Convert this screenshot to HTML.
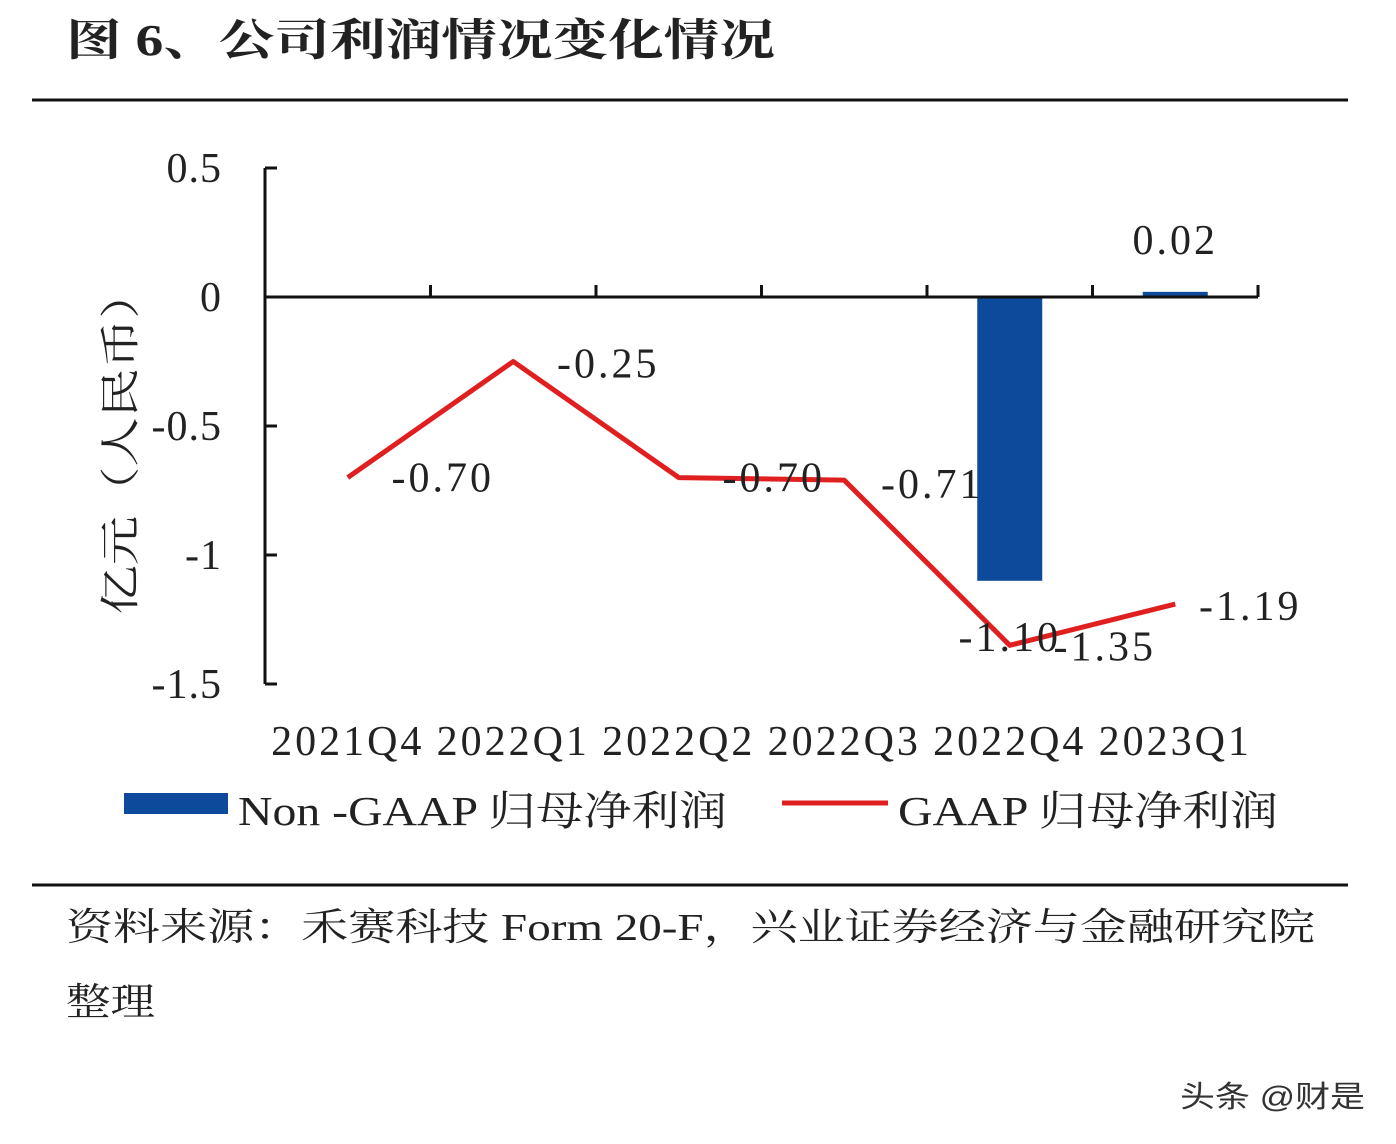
<!DOCTYPE html>
<html><head><meta charset="utf-8">
<style>
body{margin:0;background:#fff;width:1396px;height:1144px;overflow:hidden;}
svg{display:block}
.t{font-family:"Liberation Serif","Noto Serif CJK SC",serif;fill:#222;}
.n{letter-spacing:3px;}
.ny{letter-spacing:1px;}
</style></head>
<body>
<svg width="1396" height="1144">
<text class="t" x="66" y="55" font-size="44" font-weight="bold" textLength="709" lengthAdjust="spacingAndGlyphs">图 6、公司利润情况变化情况</text>
<line x1="32" y1="100" x2="1348" y2="100" stroke="#111" stroke-width="3"/>
<g id="plot"></g>
<text class="t" font-size="40" x="0" y="0" textLength="345" lengthAdjust="spacingAndGlyphs" transform="translate(134,442) rotate(-90)" text-anchor="middle" fill="#444">亿元（人民币）</text>
<rect x="124" y="793" width="104" height="21" fill="#0d4a9c"/>
<text class="t" x="238" y="825" font-size="41" textLength="489" lengthAdjust="spacingAndGlyphs">Non -GAAP 归母净利润</text>
<line x1="782" y1="803" x2="888" y2="803" stroke="#e02020" stroke-width="5"/>
<text class="t" x="898" y="825" font-size="41" textLength="380" lengthAdjust="spacingAndGlyphs">GAAP 归母净利润</text>
<line x1="32" y1="885" x2="1348" y2="885" stroke="#111" stroke-width="3"/>
<text class="t" x="66" y="940" font-size="38" textLength="1249" lengthAdjust="spacingAndGlyphs">资料来源：禾赛科技 Form 20-F，兴业证券经济与金融研究院</text>
<text class="t" x="66" y="1015" font-size="38" textLength="89" lengthAdjust="spacingAndGlyphs">整理</text>
<text x="1180" y="1107" font-size="30" textLength="185" lengthAdjust="spacingAndGlyphs" font-family="'Liberation Sans','Noto Sans CJK SC',sans-serif" fill="#333">头条 @财是</text>
</svg>
<script>
const categories=["2021Q4","2022Q1","2022Q2","2022Q3","2022Q4","2023Q1"];
const gaapValues=[-0.70,-0.25,-0.70,-0.71,-1.35,-1.19];
const nonGaapValues=[null,null,null,null,-1.10,0.02];
const yTicks=[0.5,0,-0.5,-1,-1.5];
const yTickLabels=["0.5","0","-0.5","-1","-1.5"];
const gaapLabels=["-0.70","-0.25","-0.70","-0.71","-1.35","-1.19"];
const nonGaapLabels=[null,null,null,null,"-1.10","0.02"];

const NS="http://www.w3.org/2000/svg";
const g=document.getElementById('plot');
const x0=265,x1=1258,yTop=168,yBot=684,vMax=0.5,vMin=-1.5;
const band=(x1-x0)/categories.length;
const X=i=>x0+band*(i+0.5);
const Y=v=>yTop+(vMax-v)/(vMax-vMin)*(yBot-yTop);
function mk(tag,attrs){const e=document.createElementNS(NS,tag);for(const k in attrs)e.setAttribute(k,attrs[k]);g.appendChild(e);return e;}
let ax=mk('line',{x1:x0,y1:yTop,x2:x0,y2:yBot,stroke:'#111','stroke-width':3});


yTicks.forEach((v,i)=>{
  let t=mk('line',{x1:x0,y1:Y(v),x2:x0+12,y2:Y(v),stroke:'#111','stroke-width':3});
  
  
  let l=mk('text',{x:x0-43,y:Y(v)+14,'font-size':42,'text-anchor':'end',class:'t ny'});
  l.textContent=yTickLabels[i];
  
  
});
nonGaapValues.forEach((v,i)=>{
  if(v===null)return;
  const w=65;
  let r=mk('rect',{x:X(i)-w/2,y:Math.min(Y(v),Y(0)),width:w,height:Math.max(2,Math.abs(Y(v)-Y(0))),fill:'#0d4a9c'});
  
  
});
let xa=mk('line',{x1:x0,y1:Y(0),x2:x1,y2:Y(0),stroke:'#111','stroke-width':3});


categories.forEach((c,i)=>{
  const tx=x0+band*(i+1);
  let t=mk('line',{x1:tx,y1:Y(0),x2:tx,y2:Y(0)-12,stroke:'#111','stroke-width':3});
  
  
  let l=mk('text',{x:X(i),y:755,'font-size':42,'text-anchor':'middle',class:'t n'});
  l.textContent=c;
  
  
});
let pl=mk('polyline',{points:gaapValues.map((v,i)=>X(i)+','+Y(v)).join(' '),fill:'none',stroke:'#e02020','stroke-width':5,'stroke-linejoin':'round'});


const gOff=[[95,14],[95,16],[95,14],[88,18],[95,15],[75,16]];
gaapValues.forEach((v,i)=>{
  let l=mk('text',{x:X(i)+gOff[i][0],y:Y(v)+gOff[i][1],'font-size':42,'text-anchor':'middle',class:'t n'});
  l.textContent=gaapLabels[i];
  
  
});
nonGaapValues.forEach((v,i)=>{
  if(v===null)return;
  const yy=v<0?Y(v)+70:Y(v)-38;
  let l=mk('text',{x:X(i),y:yy,'font-size':42,'text-anchor':'middle',class:'t n'});
  l.textContent=nonGaapLabels[i];
  
  
});
</script>
</body></html>
